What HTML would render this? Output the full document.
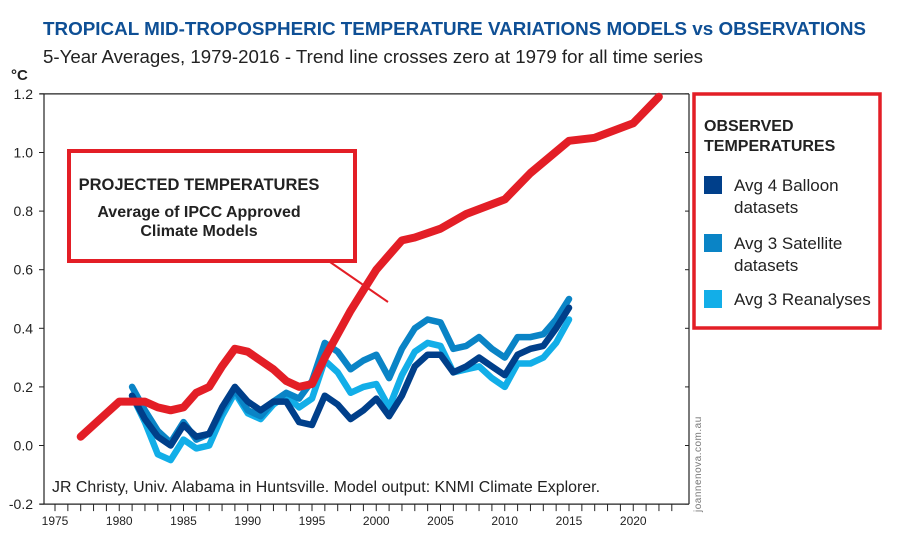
<!DOCTYPE html>
<html><head><meta charset="utf-8"><style>
body{margin:0;background:#fff;width:899px;height:549px;overflow:hidden;font-family:"Liberation Sans",sans-serif;}
</style></head><body>
<svg width="899" height="549" font-family="Liberation Sans, sans-serif">
<text x="43" y="35" font-size="18.8" font-weight="bold" fill="#0e4f95" textLength="823" lengthAdjust="spacingAndGlyphs">TROPICAL MID-TROPOSPHERIC TEMPERATURE VARIATIONS MODELS vs OBSERVATIONS</text>
<text x="43" y="63" font-size="18.5" fill="#222" textLength="660" lengthAdjust="spacingAndGlyphs">5-Year Averages, 1979-2016 - Trend line crosses zero at 1979 for all time series</text>
<text x="11" y="80" font-size="15" font-weight="bold" fill="#222">°C</text>
<g id="axes"></g>
<g id="series"></g>
<text x="52" y="492" font-size="16" fill="#222" textLength="548" lengthAdjust="spacingAndGlyphs">JR Christy, Univ. Alabama in Huntsville. Model output: KNMI Climate Explorer.</text>
<text transform="translate(701,512) rotate(-90)" font-size="10" fill="#777" letter-spacing="0.5">joannenova.com.au</text>
<line x1="330" y1="262" x2="388" y2="302" stroke="#e31e26" stroke-width="2"/>
<g>
<rect x="69" y="151" width="286" height="110" fill="#fff" stroke="#e31e26" stroke-width="4"/>
<text x="199" y="190" font-size="16.5" font-weight="bold" text-anchor="middle" fill="#222">PROJECTED TEMPERATURES</text>
<text x="199" y="217" font-size="16" font-weight="bold" text-anchor="middle" fill="#222">Average of IPCC Approved</text>
<text x="199" y="236" font-size="16" font-weight="bold" text-anchor="middle" fill="#222">Climate Models</text>
</g>
<g>
<rect x="694" y="94" width="186" height="234" fill="#fff" stroke="#e31e26" stroke-width="3.5"/>
<text x="704" y="131" font-size="16" font-weight="bold" fill="#222">OBSERVED</text>
<text x="704" y="151" font-size="16" font-weight="bold" fill="#222">TEMPERATURES</text>
<g><rect x="704" y="176" width="18" height="18" fill="#003f8a"/><text x="734" y="191" font-size="17" fill="#222">Avg 4 Balloon</text><text x="734" y="213" font-size="17" fill="#222">datasets</text></g>
<g><rect x="704" y="234" width="18" height="18" fill="#0a84c6"/><text x="734" y="249" font-size="17" fill="#222">Avg 3 Satellite</text><text x="734" y="271" font-size="17" fill="#222">datasets</text></g>
<g><rect x="704" y="290" width="18" height="18" fill="#12aee8"/><text x="734" y="305" font-size="17" fill="#222">Avg 3 Reanalyses</text></g>
</g>
</svg>
<script>
const modelYears=[1977,1979,1980,1981,1982,1983,1984,1985,1986,1987,1988,1989,1990,1991,1992,1993,1994,1995,1996,1997,1998,1999,2000,2001,2002,2003,2005,2007,2010,2012,2015,2017,2020,2022];
const modelValues=[0.03,0.11,0.15,0.15,0.15,0.13,0.12,0.13,0.18,0.20,0.27,0.33,0.32,0.29,0.26,0.22,0.20,0.21,0.30,0.38,0.46,0.53,0.60,0.65,0.70,0.71,0.74,0.79,0.84,0.93,1.04,1.05,1.10,1.19];
const obsYears=[1981,1982,1983,1984,1985,1986,1987,1988,1989,1990,1991,1992,1993,1994,1995,1996,1997,1998,1999,2000,2001,2002,2003,2004,2005,2006,2007,2008,2009,2010,2011,2012,2013,2014,2015];
const balloon=[0.17,0.09,0.03,0.00,0.07,0.03,0.04,0.13,0.20,0.15,0.12,0.15,0.15,0.08,0.07,0.17,0.14,0.09,0.12,0.16,0.10,0.17,0.27,0.31,0.31,0.25,0.27,0.30,0.27,0.24,0.31,0.33,0.34,0.40,0.47];
const satellite=[0.20,0.12,0.05,0.01,0.08,0.02,0.04,0.12,0.19,0.12,0.10,0.15,0.18,0.16,0.22,0.35,0.32,0.26,0.29,0.31,0.23,0.33,0.40,0.43,0.42,0.33,0.34,0.37,0.33,0.30,0.37,0.37,0.38,0.43,0.50];
const reanalyses=[0.17,0.08,-0.03,-0.05,0.02,-0.01,0.00,0.10,0.18,0.11,0.09,0.14,0.17,0.13,0.16,0.29,0.25,0.18,0.20,0.21,0.13,0.24,0.32,0.35,0.34,0.25,0.26,0.27,0.23,0.20,0.28,0.28,0.30,0.35,0.43];
const yTicks=[-0.2,0.0,0.2,0.4,0.6,0.8,1.0,1.2];
const xTickLabels=[1975,1980,1985,1990,1995,2000,2005,2010,2015,2020];
const NS='http://www.w3.org/2000/svg';
const X=y=>55+12.85*(y-1975);
const Y=v=>445.5-v*293;
function mk(tag,attrs,parent){const e=document.createElementNS(NS,tag);for(const k in attrs)e.setAttribute(k,attrs[k]);parent.appendChild(e);return e;}
const ax=document.getElementById('axes');
const L=44,R=689,T=Y(1.2),B=Y(-0.2);
let ln=mk('line',{x1:L-4,y1:T,x2:R,y2:T,stroke:'#222','stroke-width':1.2},ax);


ln=mk('line',{x1:L,y1:T,x2:L,y2:B,stroke:'#222','stroke-width':1.2},ax);


ln=mk('line',{x1:R,y1:T,x2:R,y2:B,stroke:'#222','stroke-width':1.2},ax);


ln=mk('line',{x1:L-4,y1:B,x2:R,y2:B,stroke:'#222','stroke-width':1.2},ax);


yTicks.forEach(v=>{
  const t=mk('line',{x1:L-5,y1:Y(v),x2:L,y2:Y(v),stroke:'#222'},ax);
  
  
  const t2=mk('line',{x1:R-4,y1:Y(v),x2:R,y2:Y(v),stroke:'#222'},ax);
  
  
  const tx=mk('text',{x:33,y:Y(v)+5,'font-size':14,'text-anchor':'end',fill:'#222'},ax);
  tx.textContent=v.toFixed(1);
  
  
});
for(let yr=1974;yr<=2023;yr++){
  const x=X(yr);if(x<L||x>R)continue;
  const t=mk('line',{x1:x,y1:B,x2:x,y2:B+7,stroke:'#222'},ax);
  
  
}
xTickLabels.forEach(yr=>{
  const tx=mk('text',{x:X(yr),y:B+21,'font-size':12,'text-anchor':'middle',fill:'#222'},ax);
  tx.textContent=yr;
  
  
});
const sg=document.getElementById('series');
function line(xs,vs,color,name,w){
  const p=mk('polyline',{points:xs.map((x,i)=>X(x).toFixed(1)+','+Y(vs[i]).toFixed(1)).join(' '),fill:'none',stroke:color,'stroke-width':w,'stroke-linejoin':'round','stroke-linecap':'round'},sg);
  
  
}
line(obsYears,reanalyses,'#12aee8','reanalyses-line',6.5);
line(obsYears,satellite,'#0a84c6','satellite-line',6.5);
line(obsYears,balloon,'#003f8a','balloon-line',6.5);
line(modelYears,modelValues,'#e31e26','model-line',8);
</script>
</body></html>
